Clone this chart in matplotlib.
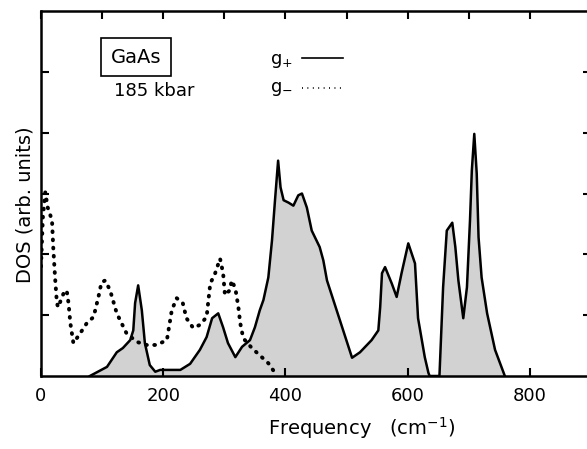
import numpy as np
import matplotlib.pyplot as plt

plt.rcParams['font.family'] = ['DejaVu Sans']

# g+ (solid, shaded)
gp_freq = [80, 108, 124, 134, 146, 151, 154, 159, 165, 170, 178, 187, 195, 228, 244,
           260, 271, 280, 290, 298, 306, 318, 329, 342, 350, 358, 364, 372, 378, 383,
           388, 392, 397, 405, 413, 421, 427, 435, 443, 456, 462, 468, 509, 522, 541,
           552, 555, 558, 563, 574, 582, 590, 601, 612, 617, 628, 634, 636, 652, 658,
           664, 673, 678, 683, 691, 697, 702, 705, 709, 713, 716, 721, 730, 743, 759]
gp_dos = [0.0, 0.15, 0.39, 0.46, 0.59, 0.75, 1.2, 1.49, 1.08, 0.54, 0.18, 0.07, 0.1, 0.1, 0.2,
          0.43, 0.64, 0.95, 1.03, 0.8, 0.54, 0.31, 0.48, 0.59, 0.8, 1.08, 1.25, 1.62, 2.23, 2.9,
          3.54, 3.1, 2.89, 2.85, 2.8, 2.97, 3.0, 2.77, 2.39, 2.12, 1.9, 1.57, 0.3, 0.39, 0.59,
          0.75, 1.13, 1.69, 1.79, 1.52, 1.3, 1.69, 2.18, 1.85, 0.95, 0.31, 0.05, 0.0, 0.0, 1.46,
          2.39, 2.52, 2.12, 1.57, 0.95, 1.46, 2.56, 3.38, 3.98, 3.33, 2.28, 1.62, 1.03, 0.43, 0.0]

# g- (dotted)
gm_freq = [0, 3, 7, 11, 18, 20, 23, 26, 28, 37, 42, 45, 48, 53, 64, 75, 86, 94, 99, 105,
           113, 124, 140, 157, 173, 189, 206, 214, 222, 232, 238, 249, 260, 271, 274, 277,
           285, 293, 298, 301, 309, 312, 318, 323, 326, 331, 345, 358, 372, 383, 386]
gm_dos = [1.8, 2.6, 3.02, 2.77, 2.56, 2.12, 1.62, 1.2, 1.13, 1.36, 1.41, 1.2, 0.87, 0.54,
          0.7, 0.87, 0.97, 1.3, 1.54, 1.57, 1.41, 1.03, 0.7, 0.56, 0.51, 0.51, 0.59, 1.08,
          1.28, 1.2, 0.95, 0.79, 0.84, 0.97, 1.25, 1.52, 1.69, 1.93, 1.69, 1.33, 1.41, 1.57,
          1.44, 1.13, 0.87, 0.62, 0.46, 0.34, 0.21, 0.05, 0.0]

xticks = [0, 200, 400, 600, 800]

fig = plt.figure(figsize=(5.87, 4.49), dpi=100)
ax = fig.add_axes([41 / 587, 73 / 449, 550 / 587, 365 / 449])

ax.fill_between(gp_freq, gp_dos, 0, color='#d2d2d2', lw=0)
ax.plot(gp_freq, gp_dos, color='black', lw=1.8, solid_joinstyle='round')
ax.plot(gm_freq, gm_dos, color='black', lw=2.8, linestyle=(0, (0.2, 1.9)),
        dash_capstyle='round')

ax.set_xlim(0, 900)
ax.set_ylim(0, 6)
ax.set_xticks(xticks)
ax.set_xticks(np.arange(100, 900, 100), minor=True)
ax.set_yticks([1, 2, 3, 4, 5])
ax.set_yticklabels([])
ax.tick_params(axis='x', which='major', direction='in', length=6, width=1.5,
               labelsize=13, pad=8, top=True)
ax.tick_params(axis='x', which='minor', direction='in', length=6, width=1.5,
               top=True, bottom=False)
ax.tick_params(axis='y', direction='in', length=6, width=1.5, right=True)
for s in ax.spines.values():
    s.set_linewidth(1.8)

ax.set_xlabel('Frequency   (cm$^{-1}$)', fontsize=14)
ax.xaxis.set_label_coords(0.583, -0.107)
ax.set_ylabel('DOS (arb. units)', fontsize=14)
ax.yaxis.set_label_coords(-0.011, 0.47)

ax.text(156, 5.24, 'GaAs', fontsize=14, ha='center', va='center',
        bbox=dict(boxstyle='square,pad=0.5', fc='white', ec='black', lw=1.2))
ax.text(185, 4.69, '185 kbar', fontsize=13, ha='center', va='center')
ax.text(375, 5.18, 'g$_{+}$', fontsize=13, ha='left', va='center')
ax.text(375, 4.72, 'g$_{-}$', fontsize=13, ha='left', va='center')
ax.plot([427, 494], [5.23, 5.23], color='black', lw=1.2)
ax.plot([427, 494], [4.74, 4.74], color='black', lw=1.3, linestyle=(0, (0.5, 2.5)))

fig.savefig('out.png', dpi=100)
